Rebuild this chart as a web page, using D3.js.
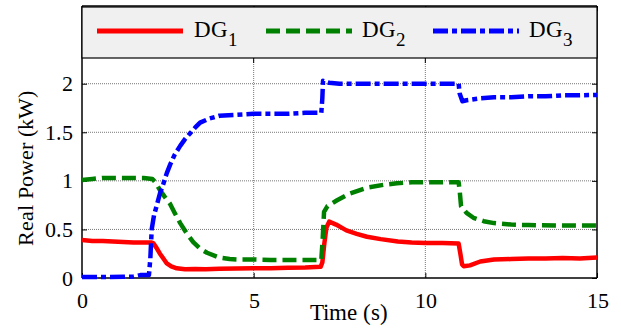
<!DOCTYPE html>
<html>
<head>
<meta charset="utf-8">
<script src="https://cdn.jsdelivr.net/npm/d3@7"></script>
<style>
  @font-face { font-family: "ChartSerif"; src: local("Liberation Serif"), local("LiberationSerif"), local("Liberation Serif Regular"), local("LiberationSerif-Regular"); }
</style>
</head>
<body style="margin:0;background:#fff">
<svg id="fig" width="621" height="330" font-family="Liberation Serif" style="font-family: ChartSerif, 'Liberation Serif', serif"></svg>
<script>
// ---- Data (time in s, real power in kW) ----
const seriesNames = ["DG1", "DG2", "DG3"];
const seriesColors = ["#ff0000", "#008000", "#0000ff"];
const xTicks = [0, 5, 10, 15];
const yTicks = [0, 0.5, 1, 1.5, 2];
const yTickLabels = ["0", "0.5", "1", "1.5", "2"];

const dg1 = [[0,0.39],[0.3,0.38],[0.6,0.38],[0.9,0.375],[1.2,0.37],[1.5,0.365],[1.8,0.365],[2.03,0.365],
  [2.08,0.357],[2.17,0.31],[2.27,0.25],[2.37,0.2],[2.47,0.15],[2.6,0.12],[2.76,0.1],[3.0,0.09],[3.3,0.092],
  [3.6,0.09],[4.0,0.095],[4.5,0.098],[5.0,0.1],[5.5,0.1],[6.0,0.105],[6.5,0.108],[6.95,0.115],[7.0,0.16],
  [7.06,0.36],[7.12,0.52],[7.2,0.58],[7.4,0.55],[7.7,0.49],[8.0,0.455],[8.3,0.425],[8.7,0.4],[9.2,0.375],
  [9.6,0.365],[10.0,0.36],[10.5,0.36],[10.97,0.355],[11.02,0.25],[11.07,0.14],[11.12,0.12],[11.3,0.13],
  [11.6,0.17],[12.0,0.19],[12.5,0.195],[13.0,0.2],[13.5,0.2],[14.0,0.205],[14.5,0.2],[15.0,0.21]];

const dg2 = [[0,1.01],[0.3,1.02],[0.6,1.03],[1.0,1.03],[1.4,1.03],[1.8,1.03],[2.05,1.02],[2.15,0.98],
  [2.27,0.905],[2.4,0.84],[2.57,0.76],[2.7,0.67],[2.86,0.565],[3.05,0.46],[3.24,0.37],[3.45,0.3],[3.64,0.26],
  [4.0,0.21],[4.3,0.195],[4.6,0.19],[5.0,0.19],[5.5,0.185],[6.0,0.185],[6.5,0.185],[6.97,0.185],[7.01,0.4],
  [7.05,0.68],[7.15,0.74],[7.43,0.8],[7.8,0.87],[8.3,0.93],[8.8,0.96],[9.17,0.975],[9.6,0.985],[10.0,0.985],
  [10.5,0.985],[10.97,0.985],[11.0,0.9],[11.04,0.74],[11.2,0.67],[11.4,0.62],[11.7,0.585],[12.0,0.565],
  [12.5,0.55],[13.0,0.545],[14.0,0.54],[15.0,0.54]];

const dg3 = [[0,0.01],[0.4,0.01],[0.8,0.01],[1.2,0.012],[1.5,0.015],[1.7,0.03],[1.95,0.03],[1.99,0.2],
  [2.03,0.5],[2.1,0.65],[2.18,0.75],[2.27,0.87],[2.37,0.97],[2.47,1.08],[2.57,1.17],[2.7,1.27],[2.86,1.36],
  [3.0,1.43],[3.15,1.49],[3.3,1.55],[3.44,1.6],[3.7,1.64],[4.0,1.67],[4.5,1.68],[5.0,1.69],[5.5,1.69],
  [6.0,1.69],[6.5,1.7],[6.97,1.7],[7.0,1.85],[7.02,2.03],[7.2,2.01],[7.5,2.0],[8.0,2.0],[9.0,2.0],
  [10.0,2.0],[10.97,2.0],[11.0,1.9],[11.08,1.82],[11.2,1.83],[11.6,1.85],[12.0,1.86],[12.5,1.86],
  [13.0,1.87],[13.5,1.87],[14.0,1.88],[14.5,1.88],[15.0,1.885]];

const allSeries = [dg1, dg2, dg3];
const dashes = [null, "14,6", "15,4,5,4"];
const FONT = 'ChartSerif, "Liberation Serif", serif';
const setFont = sel => sel.attr("font-family", "Liberation Serif").style("font-family", FONT, "important");

// ---- Layout ----
const svg = d3.select("#fig");
const L = 82, R = 597, B = 278, T = 6;
const x = d3.scaleLinear().domain([0, 15]).range([L, R]);
const y = d3.scaleLinear().domain([0, 2.8]).range([B, T]);

// gridlines
const grid = svg.append("g");
grid.selectAll("line.gy").data(yTicks.filter(v => v > 0)).join("line")
  .attr("x1", L).attr("x2", R).attr("y1", d => y(d)).attr("y2", d => y(d))
  .attr("stroke", "#777").attr("stroke-width", 1).attr("stroke-dasharray", "1,1");
grid.selectAll("line.gx").data(xTicks.filter(v => v > 0 && v < 15)).join("line")
  .attr("x1", d => x(d)).attr("x2", d => x(d)).attr("y1", T).attr("y2", B)
  .attr("stroke", "#777").attr("stroke-width", 1).attr("stroke-dasharray", "1,1");

// axes (inward ticks, MATLAB style)
const axB = svg.append("g").attr("transform", `translate(0,${B})`)
  .call(d3.axisBottom(x).tickValues(xTicks).tickSize(-5).tickPadding(14).tickFormat(d3.format("d")));
const axL = svg.append("g").attr("transform", `translate(${L},0)`)
  .call(d3.axisLeft(y).tickValues(yTicks).tickSize(-5).tickPadding(9).tickFormat((d, i) => yTickLabels[i]));
const axR = svg.append("g").attr("transform", `translate(${R},0)`)
  .call(d3.axisRight(y).tickValues([...yTicks, 2.5]).tickSize(-5).tickFormat(""));
const axT = svg.append("g").attr("transform", `translate(0,${T})`)
  .call(d3.axisTop(x).tickValues(xTicks).tickSize(-5).tickFormat(""));
[axB, axL, axR, axT].forEach(g => {
  setFont(g);
  g.selectAll(".domain").attr("stroke", "#000").attr("stroke-width", 1.5);
  g.selectAll(".tick line").attr("stroke", "#000").attr("stroke-width", 1);
  g.selectAll("text").attr("font-size", 22).attr("fill", "#000").call(setFont);
});
axB.selectAll(".domain").attr("d", `M${L},0H${R}`);
axT.selectAll(".domain").attr("d", `M${L},0H${R}`);
axL.selectAll(".domain").attr("d", `M0,${B}V${T}`);
axR.selectAll(".domain").attr("d", `M0,${B}V${T}`);

// data lines
const line = d3.line().x(d => x(d[0])).y(d => y(d[1]));
allSeries.forEach((s, i) => {
  svg.append("path").datum(s).attr("d", line)
    .attr("fill", "none").attr("stroke", seriesColors[i]).attr("stroke-width", 4.5)
    .attr("stroke-linejoin", "round")
    .attr("stroke-dasharray", dashes[i]);
});

// legend box (overlays top of the axes)
const legTop = 7, legBot = 58;
svg.append("rect").attr("x", L).attr("y", legTop).attr("width", R - L).attr("height", legBot - legTop)
  .attr("fill", "#f0f0f0").attr("stroke", "#000").attr("stroke-width", 1.2);
svg.selectAll("line.tt").data(xTicks.filter(v => v > 0 && v < 15)).join("line")
  .attr("x1", d => x(d)).attr("x2", d => x(d)).attr("y1", legBot).attr("y2", legBot + 5)
  .attr("stroke", "#000").attr("stroke-width", 1);

const legLineX = [97, 266, 433];
const legTextX = [194, 362, 529];
const legY = 31;
seriesNames.forEach((n, i) => {
  svg.append("line").attr("x1", legLineX[i]).attr("x2", legLineX[i] + 86)
    .attr("y1", legY).attr("y2", legY)
    .attr("stroke", seriesColors[i]).attr("stroke-width", 5)
    .attr("stroke-dasharray", dashes[i]);
  const t = svg.append("text").attr("x", legTextX[i]).attr("y", 37).attr("font-size", 23).call(setFont);
  t.append("tspan").text("DG").call(setFont);
  t.append("tspan").attr("dy", 9).attr("font-size", 19).text(n.slice(2)).call(setFont);
});

// axis labels
svg.append("text").attr("x", 349).attr("y", 320).attr("text-anchor", "middle")
  .attr("font-size", 23).text("Time (s)").call(setFont);
svg.append("text").attr("transform", "translate(33,168) rotate(-90)")
  .attr("text-anchor", "middle").attr("font-size", 22).text("Real Power (kW)").call(setFont);
</script>
</body>
</html>
